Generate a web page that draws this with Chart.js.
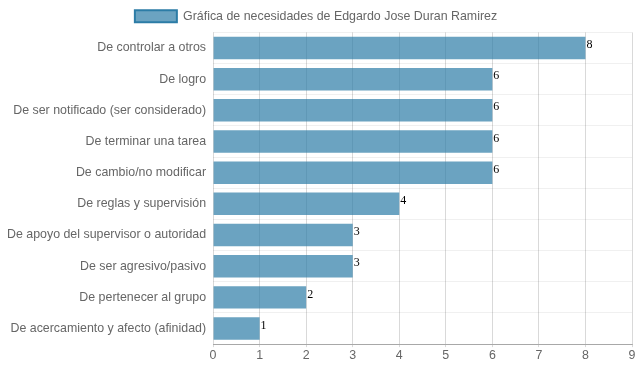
<!DOCTYPE html>
<html>
<head>
<meta charset="utf-8">
<script src="https://cdn.jsdelivr.net/npm/chart.js@4/dist/chart.umd.min.js"></script>
<style>
html,body{margin:0;padding:0;background:#fff;}
#wrap{width:639px;height:372px;}
</style>
</head>
<body>
<div id="wrap"><canvas id="c" width="639" height="372"></canvas></div>
<script>
const categories = [
  "De controlar a otros",
  "De logro",
  "De ser notificado (ser considerado)",
  "De terminar una tarea",
  "De cambio/no modificar",
  "De reglas y supervisión",
  "De apoyo del supervisor o autoridad",
  "De ser agresivo/pasivo",
  "De pertenecer al grupo",
  "De acercamiento y afecto (afinidad)"
];
const values = [8, 6, 6, 6, 6, 4, 3, 3, 2, 1];
const seriesName = "Gráfica de necesidades de Edgardo Jose Duran Ramirez";

const valueLabels = {
  id: 'valueLabels',
  afterDatasetsDraw(chart) {
    const ctx = chart.ctx;
    const meta = chart.getDatasetMeta(0);
    ctx.save();
    ctx.font = '12px "Liberation Serif", "Times New Roman", serif';
    ctx.fillStyle = '#000';
    ctx.textAlign = 'left';
    ctx.textBaseline = 'middle';
    meta.data.forEach((bar, i) => {
      ctx.fillText(String(values[i]), bar.x + 1, bar.y - 3);
    });
    ctx.restore();
  }
};

Chart.defaults.font.family = '"Liberation Sans", Arial, Helvetica, sans-serif';
Chart.defaults.font.size = 12.4;
Chart.defaults.color = '#666';

new Chart(document.getElementById('c'), {
  type: 'bar',
  data: {
    labels: categories,
    datasets: [{
      label: seriesName,
      data: values,
      backgroundColor: 'rgba(44,124,166,0.7)',
      borderColor: 'rgb(44,124,166)',
      borderWidth: 0
    }]
  },
  options: {
    indexAxis: 'y',
    responsive: false,
    animation: false,
    layout: { padding: { left: 0, right: 7, top: 0, bottom: 8 } },
    plugins: {
      legend: {
        labels: {
          boxWidth: 42,
          boxHeight: 12,
          color: '#666',
          generateLabels(chart) {
            const items = Chart.defaults.plugins.legend.labels.generateLabels(chart);
            items.forEach(it => { it.lineWidth = 2; it.strokeStyle = 'rgb(44,124,166)'; });
            return items;
          }
        }
      },
      tooltip: { enabled: false }
    },
    scales: {
      x: {
        min: 0,
        max: 9,
        ticks: { stepSize: 1, color: '#666', padding: 1 },
        grid: { color: 'rgba(0,0,0,0.15)', drawTicks: true, tickLength: 3 },
        border: { color: 'rgba(0,0,0,0.3)' }
      },
      y: {
        ticks: { color: '#666', padding: 7 },
        grid: { color: 'rgba(0,0,0,0.06)', offset: true, drawTicks: false },
        border: { display: false }
      }
    }
  },
  plugins: [valueLabels]
});
</script>
</body>
</html>
